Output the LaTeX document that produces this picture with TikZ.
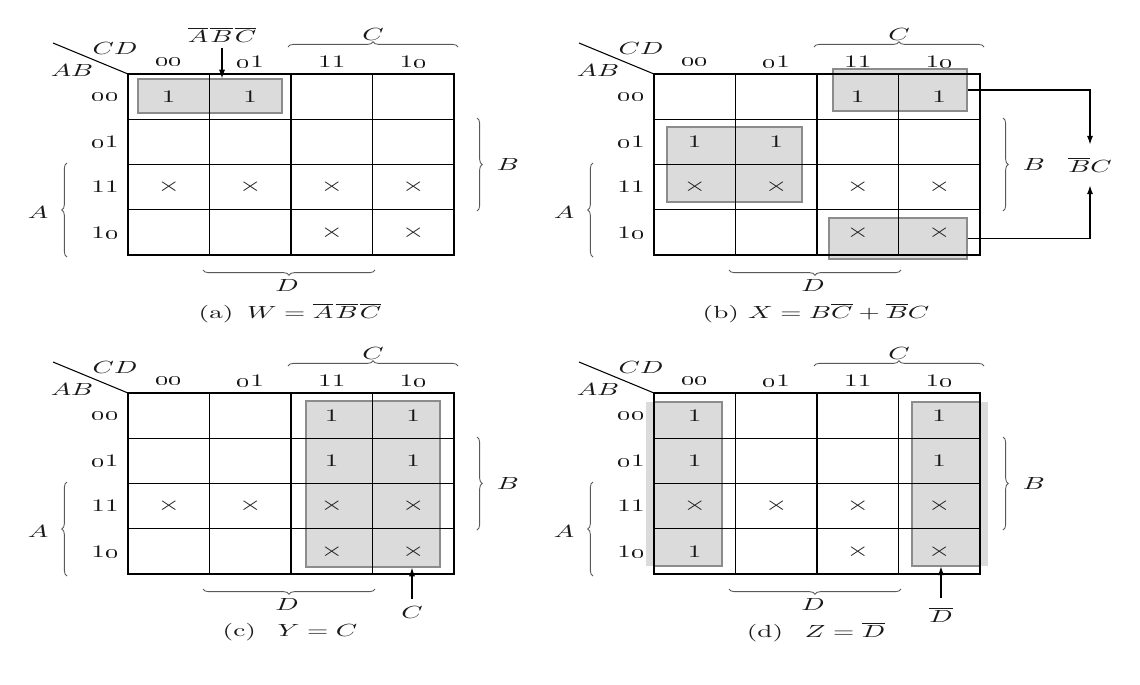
\documentclass[tikz,border=0pt]{standalone}
\usepackage{graphicx}
\usetikzlibrary{decorations.pathreplacing,arrows.meta,fit}
\newcommand\wx[1]{\scalebox{1.55}[1]{#1}}
\newcommand\oz{\oldstylenums{0}}
\newcommand\one{\wx{1}}
\newcommand\dc{\scalebox{1.5}[1]{\fontsize{11}{13}\selectfont$\times$}}
\newcommand\ob[1]{\overline{#1}\mkern1.5mu}
\tikzset{
 grp/.style={fill=black!14, draw=black!45, line width=0.6pt, inner sep=0pt},
 grpfill/.style={fill=black!14, draw=none, inner sep=0pt},
 grpedge/.style={draw=black!45, line width=0.6pt},
 outer/.style={line width=1.4pt},
 vline/.style={line width=0.9pt},
 hline/.style={line width=0.6pt},
 brc/.style={decorate, decoration={brace, amplitude=3pt}, draw=black!65, line width=0.5pt},
 lbl/.style={font=\fontsize{10}{12}\selectfont, inner sep=0pt, text=black!90},
 arr/.style={-{Latex[length=5pt,width=3.5pt]}, line width=0.7pt},
}
\newcommand\cell[4]{\node[lbl] (#1-#2#3) at ({40.75+81.5*(#2)},{22.6+45.25*(#3)}) {#4};}
\newcommand\kframe[2]{%
 \draw[hline] (0,45.25) -- (326,45.25) (0,90.5) -- (326,90.5) (0,135.75) -- (326,135.75);
 \draw[vline] (81.5,0) -- (81.5,181) (163,0) -- (163,181) (244.5,0) -- (244.5,181);
 \draw[outer] (0,0) rectangle (326,181);
 \coordinate (#1-o) at (0,0);
 \coordinate (#1-d) at (-75,-31);
 \draw[line width=0.6pt] (#1-d) -- (#1-o);
 \node[lbl] (#1-cd) at (-13,-26) {\wx{$CD$}};
 \node[lbl] (#1-ab) at (-56,-4) {\wx{$AB$}};
 \node[lbl] (#1-h0) at (40.75,-12) {\wx{\oz\oz}};
 \node[lbl] (#1-h1) at (122.25,-12) {\wx{\oz1}};
 \node[lbl] (#1-h2) at (203.75,-12) {\wx{11}};
 \node[lbl] (#1-h3) at (285.25,-12) {\wx{1\oz}};
 \node[lbl] (#1-r0) at (-23,22.6) {\wx{\oz\oz}};
 \node[lbl] (#1-r1) at (-23,67.9) {\wx{\oz1}};
 \node[lbl] (#1-r2) at (-23,113.1) {\wx{11}};
 \node[lbl] (#1-r3) at (-23,158.4) {\wx{1\oz}};
 \draw[brc] (160,-27) -- (330,-27);
 \node[lbl] (#1-C) at (245,-40) {\wx{$C$}};
 \draw[brc] (349,44) -- (349,137);
 \node[lbl] (#1-B) at (380,90) {\wx{$B$}};
 \draw[brc] (-61,183) -- (-61,89);
 \node[lbl] (#1-A) at (-90,138) {\wx{$A$}};
 \draw[brc] (247,196) -- (75,196);
 \node[lbl] (#1-D) at (159,211) {\wx{$D$}};
 \node[lbl] (#1-cap) at (162,239) {\wx{#2}};
}
\begin{document}
\begin{tikzpicture}[x=0.02cm,y=-0.02cm]
\useasboundingbox (0,0) rectangle (1140,684);
\fill[white] (0,0) rectangle (1140,684);

% (a)
\begin{scope}[shift={(128,74)}]
 \node[grp, fit={(10,5) (154,39)}] (a-g) {};
 \kframe{a}{(a)\hspace{0.5em}$W=\ob{A}\ob{B}\overline{C}$}
 \cell{a}{0}{0}{\one} \cell{a}{1}{0}{\one}
 \foreach \c in {0,...,3} {\cell{a}{\c}{2}{\dc}}
 \cell{a}{2}{3}{\dc} \cell{a}{3}{3}{\dc}
 \node[lbl] (a-lbl) at (94,-39) {\wx{$\ob{A}\ob{B}\overline{C}$}};
 \draw[arr, shorten <=3pt] (a-lbl.south) -- (a-lbl.south |- a-g.north);
\end{scope}

% (b)
\begin{scope}[shift={(654,74)}]
 \node[grp, fit={(179,-5) (313,37)}] (b-g1) {};
 \node[grp, fit={(13,53) (148,128)}] (b-g2) {};
 \node[grp, fit={(175,144) (313,185)}] (b-g3) {};
 \kframe{b}{(b) $X=B\overline{C}+\overline{B}C$}
 \cell{b}{2}{0}{\one} \cell{b}{3}{0}{\one}
 \cell{b}{0}{1}{\one} \cell{b}{1}{1}{\one}
 \foreach \c in {0,...,3} {\cell{b}{\c}{2}{\dc}}
 \cell{b}{2}{3}{\dc} \cell{b}{3}{3}{\dc}
 \node[lbl] (b-bc) at (436,91) {\wx{$\overline{B}C$}};
 \draw[arr, shorten >=7pt] (b-g1.east) -| (b-bc.north);
 \draw[arr, shorten >=7pt] (b-g3.east) -| (b-bc.south);
\end{scope}

% (c)
\begin{scope}[shift={(128,393)}]
 \node[grp, fit={(178,8) (312,174)}] (c-g) {};
 \kframe{c}{(c)\hspace{0.8em}$Y=C$}
 \cell{c}{2}{0}{\one} \cell{c}{3}{0}{\one}
 \cell{c}{2}{1}{\one} \cell{c}{3}{1}{\one}
 \foreach \c in {0,...,3} {\cell{c}{\c}{2}{\dc}}
 \cell{c}{2}{3}{\dc} \cell{c}{3}{3}{\dc}
 \node[lbl] (c-lC) at (284,219) {\wx{$C$}};
 \draw[arr, shorten <=4pt] (c-lC.north) -- (c-lC.north |- c-g.south);
\end{scope}

% (d)
\begin{scope}[shift={(654,393)}]
 \node[grpfill, fit={(-8,9) (68,173)}] (d-g1) {};
 \node[grpfill, fit={(258,9) (334,173)}] (d-g2) {};
 \draw[grpedge] (0,9) -- (68,9) -- (68,173) -- (0,173);
 \draw[grpedge] (326,9) -- (258,9) -- (258,173) -- (326,173);
 \kframe{d}{(d)\hspace{0.8em}$Z=\overline{D}$}
 \cell{d}{0}{0}{\one} \cell{d}{3}{0}{\one}
 \cell{d}{0}{1}{\one} \cell{d}{3}{1}{\one}
 \foreach \c in {0,...,3} {\cell{d}{\c}{2}{\dc}}
 \cell{d}{0}{3}{\one} \cell{d}{2}{3}{\dc} \cell{d}{3}{3}{\dc}
 \node[lbl] (d-lD) at (287,222) {\wx{$\overline{D}$}};
 \draw[arr, shorten <=5pt] (d-lD.north) -- (d-lD.north |- d-g2.south);
\end{scope}
\end{tikzpicture}
\end{document}
